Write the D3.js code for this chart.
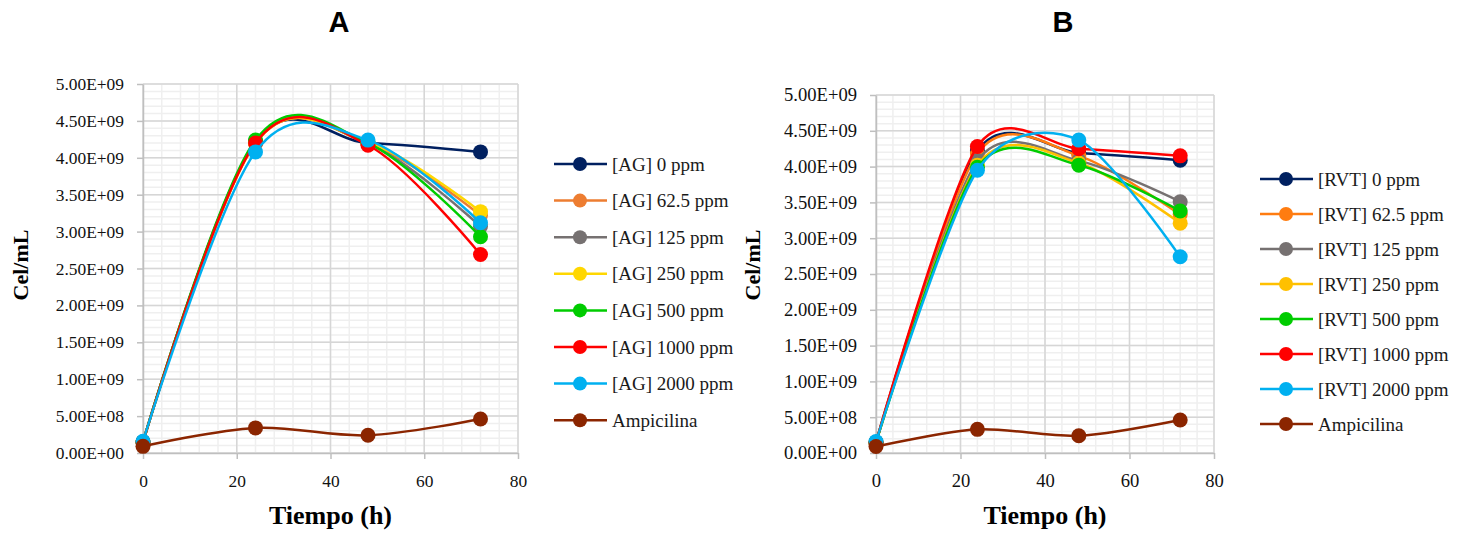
<!DOCTYPE html>
<html>
<head>
<meta charset="utf-8">
<script src="https://cdn.jsdelivr.net/npm/d3@7"></script>
<style>
  html, body { margin: 0; padding: 0; background: #fff; }
  svg { display: block; }
</style>
</head>
<body>
<div class="js-vis"></div>
<script>
"use strict";

// time points (h)
var hours = [0, 24, 48, 72];

var namesA = ["[AG] 0 ppm", "[AG] 62.5 ppm", "[AG] 125 ppm", "[AG] 250 ppm",
  "[AG] 500 ppm", "[AG] 1000 ppm", "[AG] 2000 ppm", "Ampicilina"];
var namesB = ["[RVT] 0 ppm", "[RVT] 62.5 ppm", "[RVT] 125 ppm", "[RVT] 250 ppm",
  "[RVT] 500 ppm", "[RVT] 1000 ppm", "[RVT] 2000 ppm", "Ampicilina"];

var colorsA = ["#002060", "#ED7D31", "#767171", "#FFD700", "#00CC00", "#FF0000", "#00B0F0", "#8B2500"];
var colorsB = ["#002060", "#FF7C10", "#767171", "#FFC000", "#00CC00", "#FF0000", "#00B0F0", "#8B2500"];

// cel/mL (one row per series)
var valuesA = [
  [1.5e8, 4.22e9, 4.20e9, 4.08e9],
  [1.5e8, 4.20e9, 4.20e9, 3.22e9],
  [1.5e8, 4.21e9, 4.19e9, 3.07e9],
  [1.5e8, 4.20e9, 4.21e9, 3.27e9],
  [1.5e8, 4.24e9, 4.20e9, 2.93e9],
  [1.5e8, 4.20e9, 4.17e9, 2.69e9],
  [1.6e8, 4.08e9, 4.24e9, 3.12e9],
  [0.9e8, 3.4e8, 2.4e8, 4.6e8]
];

// cel/mL
var valuesB = [
  [1.5e8, 4.22e9, 4.19e9, 4.09e9],
  [1.5e8, 4.18e9, 4.15e9, 3.33e9],
  [1.5e8, 4.08e9, 4.08e9, 3.51e9],
  [1.5e8, 4.02e9, 4.05e9, 3.21e9],
  [1.5e8, 3.99e9, 4.02e9, 3.38e9],
  [1.5e8, 4.28e9, 4.25e9, 4.15e9],
  [1.6e8, 3.95e9, 4.37e9, 2.74e9],
  [0.9e8, 3.3e8, 2.4e8, 4.6e8]
];

var xTicks = [0, 20, 40, 60, 80];
var yTicks = d3.range(0, 5.0e9 + 1, 5e8);

var serif = "'Liberation Serif', 'Times New Roman', serif";

function sci(v) {
  if (v === 0) return "0.00E+00";
  var e = Math.floor(Math.log10(v) + 1e-9),
      m = v / Math.pow(10, e);
  return m.toFixed(2) + "E+" + String(e).padStart(2, "0");
}

var svg = d3.select(".js-vis").append("svg")
  .attr("width", 1461).attr("height", 535);

function drawPanel(cfg) {
  var x = d3.scaleLinear().domain([0, 80]).range([cfg.left, cfg.right]);
  var y = d3.scaleLinear().domain([0, 5e9]).range([cfg.bottom, cfg.top]);

  var g = svg.append("g");

  // minor grid
  var minor = g.append("g");
  minor.selectAll(".mx").data(d3.range(0, 81, 4)).enter().append("line")
    .attr("x1", function (d) { return x(d); }).attr("x2", function (d) { return x(d); })
    .attr("y1", cfg.top).attr("y2", cfg.bottom)
    .attr("stroke", "#efefef").attr("stroke-width", 1.5);
  minor.selectAll(".my").data(d3.range(0, 5e9 + 1, 1e8)).enter().append("line")
    .attr("y1", function (d) { return y(d); }).attr("y2", function (d) { return y(d); })
    .attr("x1", cfg.left).attr("x2", cfg.right)
    .attr("stroke", "#efefef").attr("stroke-width", 1.5);

  // major grid
  var major = g.append("g");
  major.selectAll(".gx").data(xTicks).enter().append("line")
    .attr("x1", function (d) { return x(d); }).attr("x2", function (d) { return x(d); })
    .attr("y1", cfg.top).attr("y2", cfg.bottom)
    .attr("stroke", "#d6d6d6").attr("stroke-width", 1.5);
  major.selectAll(".gy").data(yTicks).enter().append("line")
    .attr("y1", function (d) { return y(d); }).attr("y2", function (d) { return y(d); })
    .attr("x1", cfg.left).attr("x2", cfg.right)
    .attr("stroke", "#d6d6d6").attr("stroke-width", 1.5);

  // axes
  var yax = g.append("g").attr("transform", "translate(" + cfg.left + ",0)")
    .call(d3.axisLeft(y).tickValues(yTicks).tickFormat(sci).tickSizeInner(6).tickSizeOuter(0).tickPadding(13));
  var xax = g.append("g").attr("transform", "translate(0," + cfg.bottom + ")")
    .call(d3.axisBottom(x).tickValues(xTicks).tickSizeInner(6).tickSizeOuter(0));
  [yax, xax].forEach(function (a) {
    a.attr("font-family", null).attr("font-size", null);
    a.select(".domain").attr("stroke", "#bfbfbf").attr("stroke-width", 1.5);
    a.selectAll(".tick line").attr("stroke", "#bfbfbf").attr("stroke-width", 1.5);
    a.selectAll("text")
      .style("font-family", serif)
      .style("font-size", cfg.tickFont + "px")
      .attr("fill", "#111");
  });
  xax.selectAll("text").attr("y", 34).attr("dy", 0);

  // series
  var line = d3.line()
    .x(function (d, i) { return x(hours[i]); })
    .y(function (d) { return y(d); })
    .curve(d3.curveCardinal.tension(cfg.tension));

  cfg.values.forEach(function (vals, k) {
    var s = g.append("g");
    s.append("path").attr("d", line(vals)).attr("fill", "none")
      .attr("stroke", cfg.colors[k]).attr("stroke-width", 2.5);
    s.selectAll("circle").data(vals).enter().append("circle")
      .attr("cx", function (d, i) { return x(hours[i]); })
      .attr("cy", function (d) { return y(d); })
      .attr("r", 7.5).attr("fill", cfg.colors[k]);
  });

  // titles
  svg.append("text").attr("x", cfg.titleX).attr("y", 32).attr("text-anchor", "middle")
    .style("font-family", "'Liberation Sans', Arial, sans-serif").style("font-weight", "bold")
    .style("font-size", "29px").text(cfg.title);
  svg.append("text").attr("x", (cfg.left + cfg.right) / 2).attr("y", 524).attr("text-anchor", "middle")
    .style("font-family", serif).style("font-weight", "bold").style("font-size", "26px").text("Tiempo (h)");
  svg.append("text").attr("transform", "translate(" + cfg.yTitleX + ",265) rotate(-90)")
    .attr("text-anchor", "middle").attr("dy", "0.35em")
    .style("font-family", serif).style("font-weight", "bold").style("font-size", "22px").text("Cel/mL");

  // legend
  var leg = svg.append("g");
  cfg.names.forEach(function (n, k) {
    var ly = cfg.legTop + k * cfg.legStep;
    leg.append("line").attr("x1", cfg.legX).attr("x2", cfg.legX + 53)
      .attr("y1", ly).attr("y2", ly).attr("stroke", cfg.colors[k]).attr("stroke-width", 2.5);
    leg.append("circle").attr("cx", cfg.legX + 26).attr("cy", ly).attr("r", 7).attr("fill", cfg.colors[k]);
    leg.append("text").attr("x", cfg.legX + 58).attr("y", ly).attr("dy", "0.35em")
      .style("font-family", serif).style("font-size", "19px").attr("fill", "#1a1a1a").text(n);
  });
}

drawPanel({
  title: "A", titleX: 339, left: 143, right: 518, top: 84, bottom: 453,
  yTitleX: 20, tickFont: 17.4, tension: 0, values: valuesA, names: namesA, colors: colorsA,
  legX: 554, legTop: 164, legStep: 36.6
});

drawPanel({
  title: "B", titleX: 1063, left: 876, right: 1214, top: 95, bottom: 453,
  yTitleX: 752, tickFont: 18.6, tension: 0.15, values: valuesB, names: namesB, colors: colorsB,
  legX: 1260, legTop: 179, legStep: 35
});
</script>
</body>
</html>
